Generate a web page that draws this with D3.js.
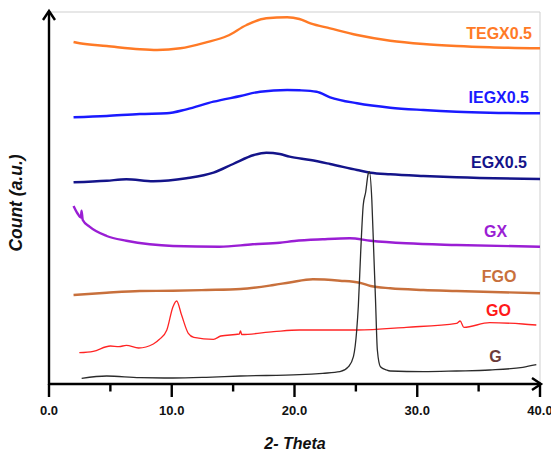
<!DOCTYPE html>
<html>
<head>
<meta charset="utf-8">
<script src="https://cdn.jsdelivr.net/npm/d3@7"></script>
<style>
  body { margin: 0; background: #fff; }
  svg { display: block; font-family: "Liberation Sans", Arial, sans-serif; }
</style>
</head>
<body>
<svg id="chart" width="551" height="451"></svg>
<script>
// x ticks (2 theta)
const majorTicks = [0, 10, 20, 30, 40];
const minorTicks = [5, 15, 25, 35];

// series names, colours, label colours
const seriesNames = ["TEGX0.5", "IEGX0.5", "EGX0.5", "GX", "FGO", "GO", "G"];
const lineColors = ["#ff7a26", "#1a1aff", "#14148a", "#9a1ed4", "#c8703c", "#ff2424", "#2b2b2b"];
const labelColors = ["#ff7a26", "#1a1aff", "#14148a", "#9a1ed4", "#c8703c", "#ff1a1a", "#6b3b3b"];

// [2theta, count (offset, a.u.)]
const tegx = [[2.0, 342], [2.5, 340.7], [4.7, 338], [7.4, 334.7], [8.8, 334], [10.7, 335.7], [12.8, 341.7],
  [14.5, 348], [16.1, 359], [17.7, 365.7], [19.4, 366.7], [20.4, 365], [21.3, 360.7], [22.9, 355.7],
  [25.1, 349], [27.8, 343.3], [30.5, 340], [33.2, 338], [35.9, 336.7], [40, 335.7]];
const iegx = [[2.0, 266.7], [4.7, 268], [7.4, 270], [9.6, 270.7], [11.2, 274.7], [13.4, 282.3], [15.6, 288],
  [17.2, 292.3], [19.4, 294], [20.4, 293.7], [21.8, 292.3], [22.9, 286.7], [25.1, 280.7], [27.8, 276.3],
  [30.5, 274], [33.2, 272.3], [35.9, 271.3], [40, 270.7]];
const egx = [[2.0, 201.7], [4.7, 203.3], [6.3, 204.7], [8.5, 202.7], [11.2, 205.7], [13.4, 211.3], [15.0, 220],
  [16.7, 229], [17.7, 231.3], [18.8, 230], [19.6, 227.3], [21.3, 224], [22.9, 220], [25.1, 214], [26.2, 211.3],
  [27.8, 209.7], [30.5, 208], [33.2, 206.7], [40, 205]];
const gx = [[2.0, 178], [2.3, 171], [2.6, 166.5], [2.65, 173.3], [2.75, 164], [3.3, 157.3], [4.7, 148],
  [6.3, 143.3], [8.2, 139.7], [10.1, 138], [13.9, 137.3], [16.6, 139.7], [18.8, 141.3], [20.0, 143],
  [22.3, 144.7], [24.5, 145.7], [26.2, 143.3], [29.1, 140.7], [33.2, 139], [40, 137.3]];
const fgo = [[2.0, 89], [4.7, 91.3], [7.4, 93], [10.1, 93.3], [12.8, 94], [15.6, 95], [18.3, 99], [19.6, 101.5],
  [21.5, 104.7], [23.7, 103.3], [25.3, 101.3], [26.2, 98], [27.8, 95.7], [30.5, 94], [33.2, 93], [40, 90.7]];
const go = [[2.47, 31.3], [3.6, 32.7], [5.0, 38], [5.7, 37.3], [6.3, 38.7], [7.3, 36], [8.5, 40], [9.0, 44.7],
  [9.6, 54], [10.1, 77.3], [10.4, 83], [10.8, 69], [11.35, 50.7], [11.8, 46.7], [13.4, 44.7], [14.0, 48],
  [15.5, 50], [15.6, 53], [15.7, 49.5], [18.3, 52.3], [20.4, 54], [22.3, 54], [25.1, 54], [29.1, 56.7],
  [33.2, 60.7], [33.5, 63], [33.8, 56.7], [35.9, 61.3], [38.6, 60], [39.7, 59]];
const g = [[2.66, 5.7], [4.7, 8], [7.4, 6.3], [10.1, 6], [12.8, 6.7], [15.6, 8], [20.4, 9.3], [22.3, 10.7],
  [23.7, 12.3], [24.4, 17.3], [24.8, 27.3], [25.07, 54], [25.2, 78], [25.4, 134], [25.6, 179], [25.8, 192],
  [26.0, 210], [26.1, 212.3], [26.3, 184], [26.45, 134], [26.6, 84], [26.75, 34], [27.0, 17.3], [27.5, 14],
  [27.8, 13], [30.5, 12.3], [33.2, 13], [35.9, 14], [38.6, 16.7], [39.7, 19.3]];

const seriesData = [tegx, iegx, egx, gx, fgo, go, g];

const svg = d3.select("#chart");
const x = d3.scaleLinear().domain([0, 40]).range([49, 540]);
const y = d3.scaleLinear().domain([-1.5, 372]).range([385.5, 12]);

// light frame
svg.append("path")
    .attr("d", `M${x(0)},${y(372)}H${x(40)}V${y(0)}`)
    .attr("fill", "none")
    .attr("stroke", "#cfcfcf")
    .attr("stroke-width", 1);

// curves
const line = d3.line()
    .x(d => x(d[0]))
    .y(d => y(d[1]))
    .curve(d3.curveMonotoneX);

seriesData.forEach((data, i) => {
    const thin = seriesNames[i] === "GO" || seriesNames[i] === "G";
    svg.append("path")
        .datum(data)
        .attr("d", line)
        .attr("fill", "none")
        .attr("stroke", lineColors[i])
        .attr("stroke-width", thin ? 1.3 : 2.4)
        .attr("stroke-linejoin", "round");
});

// labels
const labelLayout = [
    { x: 532, y: 39, anchor: "end" },
    { x: 529, y: 103, anchor: "end" },
    { x: 527, y: 168, anchor: "end" },
    { x: 495.5, y: 237, anchor: "middle" },
    { x: 499, y: 282, anchor: "middle" },
    { x: 498.5, y: 316, anchor: "middle" },
    { x: 495.5, y: 362, anchor: "middle" }
];
seriesNames.forEach((name, i) => {
    svg.append("text")
        .attr("x", labelLayout[i].x)
        .attr("y", labelLayout[i].y)
        .attr("text-anchor", labelLayout[i].anchor)
        .attr("fill", labelColors[i])
        .attr("font-size", 16)
        .attr("font-weight", "bold")
        .text(name);
});

// x axis
const xAxis = svg.append("g").attr("transform", `translate(0,${y(0)})`);
xAxis.append("line")
    .attr("x1", x(0) - 1).attr("x2", x(40) + 1)
    .attr("stroke", "#000").attr("stroke-width", 2.4);
xAxis.append("path")
    .attr("d", `M${x(40) - 8},-6L${x(40) + 1},0L${x(40) - 8},6`)
    .attr("fill", "none").attr("stroke", "#000").attr("stroke-width", 2.4);
xAxis.selectAll(".major").data(majorTicks).join("line")
    .attr("x1", d => x(d)).attr("x2", d => x(d))
    .attr("y1", 0).attr("y2", 13)
    .attr("stroke", "#000").attr("stroke-width", 2.4);
xAxis.selectAll(".minor").data(minorTicks).join("line")
    .attr("x1", d => x(d)).attr("x2", d => x(d))
    .attr("y1", 0).attr("y2", 7.5)
    .attr("stroke", "#000").attr("stroke-width", 2.4);
xAxis.selectAll(".tick-label").data(majorTicks).join("text")
    .attr("x", d => x(d))
    .attr("y", 31)
    .attr("text-anchor", "middle")
    .attr("font-size", 13)
    .attr("font-weight", "bold")
    .attr("fill", "#111")
    .text(d => d3.format(".1f")(d));

// y axis
svg.append("line")
    .attr("x1", x(0)).attr("x2", x(0))
    .attr("y1", y(0) + 1).attr("y2", y(372) - 1)
    .attr("stroke", "#000").attr("stroke-width", 2.4);
svg.append("path")
    .attr("d", `M${x(0) - 6},${y(372) + 8}L${x(0)},${y(372) - 1}L${x(0) + 6},${y(372) + 8}`)
    .attr("fill", "none").attr("stroke", "#000").attr("stroke-width", 2.4);

// titles
svg.append("text")
    .attr("x", 295)
    .attr("y", 449)
    .attr("text-anchor", "middle")
    .attr("font-size", 16)
    .attr("font-weight", "bold")
    .attr("font-style", "italic")
    .attr("fill", "#111")
    .text("2- Theta");

svg.append("text")
    .attr("transform", "translate(22,203) rotate(-90)")
    .attr("text-anchor", "middle")
    .attr("font-size", 17.5)
    .attr("font-weight", "bold")
    .attr("font-style", "italic")
    .attr("fill", "#111")
    .text("Count (a.u.)");
</script>
</body>
</html>
